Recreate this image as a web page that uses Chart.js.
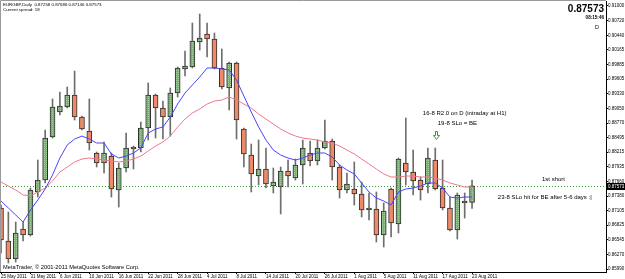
<!DOCTYPE html>
<html>
<head>
<meta charset="utf-8">
<script src="https://cdn.jsdelivr.net/npm/chart.js@4.4.1/dist/chart.umd.min.js"></script>
<style>
  html, body { margin: 0; padding: 0; background: #fff; }
  #wrap { width: 625px; height: 279px; }
</style>
</head>
<body>
<div id="wrap"><canvas id="eurgbp" width="625" height="279"></canvas></div>
<script>
// EURGBP Daily, one entry per trading day, 25 May 2011 .. 23 Aug 2011
const opens = [0.87152, 0.86523, 0.86181, 0.86752, 0.86638, 0.87457, 0.87685, 0.88504, 0.88981, 0.89076,
  0.89304, 0.88885, 0.88619, 0.88200, 0.88009, 0.88142, 0.87495, 0.87914, 0.88314, 0.88295,
  0.88676, 0.89304, 0.89057, 0.88885, 0.89342, 0.89800, 0.89838, 0.90314, 0.90466, 0.90371,
  0.89819, 0.89438, 0.89914, 0.88657, 0.88161, 0.87761, 0.87895, 0.87571, 0.87552, 0.87857,
  0.87723, 0.87971, 0.88200, 0.88047, 0.88295, 0.88428, 0.87933, 0.87495, 0.87514, 0.87419,
  0.87114, 0.87133, 0.86638, 0.87514, 0.86847, 0.88009, 0.87838, 0.87685, 0.87609, 0.88066,
  0.87533, 0.87152, 0.86733, 0.87285, 0.87258];
const highs = [0.87209, 0.87076, 0.86885, 0.86885, 0.87533, 0.88066, 0.88638, 0.89228, 0.89361, 0.89457,
  0.89761, 0.88904, 0.89228, 0.88219, 0.88409, 0.88200, 0.88009, 0.88581, 0.88333, 0.88790,
  0.89533, 0.89323, 0.89190, 0.89438, 0.89838, 0.90142, 0.90676, 0.90847, 0.90676, 0.90485,
  0.90181, 0.89933, 0.89933, 0.88676, 0.88371, 0.88447, 0.88295, 0.87914, 0.87933, 0.88066,
  0.88085, 0.88447, 0.88428, 0.88447, 0.88828, 0.88466, 0.87971, 0.87819, 0.88028, 0.87647,
  0.87438, 0.87457, 0.87247, 0.87533, 0.88104, 0.88866, 0.88257, 0.87742, 0.88295, 0.88295,
  0.88066, 0.87361, 0.87438, 0.87438, 0.87686];
const lows = [0.86295, 0.86104, 0.86123, 0.86523, 0.86619, 0.87361, 0.87628, 0.88485, 0.88923, 0.89057,
  0.88828, 0.88638, 0.88257, 0.87933, 0.87819, 0.87361, 0.87171, 0.87838, 0.87895, 0.88219,
  0.88447, 0.88485, 0.88466, 0.88523, 0.89266, 0.89666, 0.89819, 0.90161, 0.90028, 0.89800,
  0.89419, 0.89019, 0.88466, 0.87933, 0.87457, 0.87590, 0.87533, 0.87438, 0.87038, 0.87552,
  0.87685, 0.87609, 0.87952, 0.87971, 0.88276, 0.87685, 0.87342, 0.87438, 0.87209, 0.86981,
  0.86923, 0.86504, 0.86409, 0.86600, 0.86676, 0.87590, 0.87400, 0.87304, 0.87438, 0.87495,
  0.87114, 0.86714, 0.86561, 0.86961, 0.87146];
const closes = [0.86542, 0.86181, 0.86676, 0.86638, 0.87495, 0.87685, 0.88485, 0.89076, 0.89095, 0.89304,
  0.88885, 0.88657, 0.88390, 0.88009, 0.88200, 0.87514, 0.87914, 0.88295, 0.88276, 0.88676,
  0.89304, 0.89057, 0.88885, 0.89342, 0.89819, 0.89857, 0.90333, 0.90390, 0.90371, 0.89819,
  0.89457, 0.89914, 0.88828, 0.88181, 0.87800, 0.87895, 0.87609, 0.87647, 0.87857, 0.87761,
  0.87971, 0.88295, 0.88047, 0.88295, 0.88428, 0.87933, 0.87495, 0.87609, 0.87419, 0.87114,
  0.87152, 0.86638, 0.87095, 0.86866, 0.88085, 0.87838, 0.87666, 0.87495, 0.88104, 0.87514,
  0.87152, 0.86733, 0.87400, 0.87247, 0.87573];

// moving averages as drawn on the chart (blue = fast, pink = slow)
const maFast = [0.87285, 0.87152, 0.87019, 0.86885, 0.87114, 0.87304, 0.87514, 0.87781, 0.88104, 0.88352,
  0.88466, 0.88523, 0.88466, 0.88390, 0.88390, 0.88181, 0.88104, 0.88142, 0.88200, 0.88295,
  0.88581, 0.88657, 0.88695, 0.88885, 0.89133, 0.89342, 0.89495, 0.89647, 0.89819, 0.89819,
  0.89800, 0.89781, 0.89590, 0.89285, 0.88981, 0.88695, 0.88447, 0.88257, 0.88161, 0.88104,
  0.88066, 0.88104, 0.88161, 0.88200, 0.88200, 0.88123, 0.87971, 0.87876, 0.87800, 0.87628,
  0.87457, 0.87342, 0.87285, 0.87209, 0.87457, 0.87514, 0.87533, 0.87571, 0.87628, 0.87628,
  0.87533, 0.87361, 0.87342, 0.87361, 0.87361];
const maSlow = [0.87647, 0.87571, 0.87495, 0.87400, 0.87381, 0.87457, 0.87533, 0.87666, 0.87838, 0.87933,
  0.88028, 0.88085, 0.88104, 0.88085, 0.88066, 0.88047, 0.88028, 0.88047, 0.88085, 0.88142,
  0.88238, 0.88333, 0.88409, 0.88523, 0.88695, 0.88847, 0.88962, 0.89038, 0.89133, 0.89190,
  0.89209, 0.89266, 0.89209, 0.89133, 0.89057, 0.88942, 0.88847, 0.88752, 0.88657, 0.88581,
  0.88523, 0.88485, 0.88466, 0.88447, 0.88409, 0.88390, 0.88333, 0.88257, 0.88181, 0.88085,
  0.87990, 0.87895, 0.87800, 0.87742, 0.87742, 0.87761, 0.87761, 0.87742, 0.87742, 0.87723,
  0.87685, 0.87628, 0.87590, 0.87552, 0.87552];

// one date label every 4 bars
const dateTicks = ['25 May 2011', '31 May 2011', '6 Jun 2011', '10 Jun 2011', '16 Jun 2011', '22 Jun 2011',
  '28 Jun 2011', '4 Jul 2011', '8 Jul 2011', '14 Jul 2011', '20 Jul 2011', '26 Jul 2011', '1 Aug 2011',
  '5 Aug 2011', '11 Aug 2011', '17 Aug 2011', '23 Aug 2011'];
const tickStep = 4;
const priceTicks = [0.85990, 0.86270, 0.86545, 0.86825, 0.87105, 0.87380, 0.87660, 0.87935, 0.88215, 0.88495,
  0.88770, 0.89050, 0.89330, 0.89605, 0.89885, 0.90165, 0.90440, 0.90720, 0.91000];
const lastPrice = 0.87573;

// chart comments, anchored at (bar, price)
const notes = [
  { text: '16-8 R2.0 on D (intraday at H1)', bar: 63.0, price: 0.88961, align: 'center' },
  { text: '19-8 SLo = BE', bar: 62.0, price: 0.88771, align: 'center' },
  { text: '1st short', bar: 73.5, price: 0.87704, align: 'left' },
  { text: '23-8 SLo hit for BE after 5-6 days :|', bar: 67.5, price: 0.87361, align: 'left' }
];
const arrowAt = { bar: 59.1, price: 0.88619 };

const FONT = '"Liberation Sans", Arial, sans-serif';

// dithered green fill like the terminal's bull candles
function makeBullFill(ctx) {
  const c = document.createElement('canvas');
  c.width = 2; c.height = 2;
  const g = c.getContext('2d');
  g.fillStyle = '#78b070'; g.fillRect(0, 0, 2, 2);
  g.fillStyle = '#a4d29c'; g.fillRect(0, 0, 1, 1);
  return ctx.createPattern(c, 'repeat');
}

const ctx = document.getElementById('eurgbp');
const bullFill = makeBullFill(ctx.getContext('2d'));
const isUp = closes.map((c, i) => c >= opens[i]);

const decor = {
  id: 'decor',
  beforeDatasetsDraw(chart) {
    const { ctx, chartArea: a, scales: { y } } = chart;
    const py = Math.round(y.getPixelForValue(lastPrice)) + 0.5;
    ctx.save();
    ctx.strokeStyle = '#3a9a3a';
    ctx.lineWidth = 1;
    ctx.setLineDash([1, 2]);
    ctx.beginPath();
    ctx.moveTo(a.left, py);
    ctx.lineTo(a.right, py);
    ctx.stroke();
    ctx.restore();
  },
  afterDraw(chart) {
    const { ctx, chartArea: a, scales: { x, y } } = chart;
    ctx.save();
    // frame
    ctx.strokeStyle = '#9a9a9a';
    ctx.lineWidth = 1;
    ctx.beginPath();
    ctx.moveTo(0.5, a.bottom); ctx.lineTo(0.5, 0.5); ctx.lineTo(a.right, 0.5);
    ctx.stroke();

    ctx.fillStyle = '#000';
    ctx.textBaseline = 'middle';
    ctx.textAlign = 'left';
    ctx.font = '4.4px ' + FONT;
    ctx.fillText('EURGBP,Daily  0.87258 0.87686 0.87146 0.87573', 3, 5);
    ctx.fillText('Current spread: 18', 3, 10);

    ctx.font = '5.7px ' + FONT;
    ctx.fillText('MetaTrader, \u00a9 2001-2011 MetaQuotes Software Corp.', 3, 267);

    // price / clock block, top right
    ctx.textAlign = 'right';
    ctx.font = 'bold 10px ' + FONT;
    ctx.fillText('0.87573', a.right - 2, 9);
    ctx.font = 'bold 4.6px ' + FONT;
    ctx.fillText('08:15:46', a.right - 2, 18);
    ctx.font = '5.5px ' + FONT;
    ctx.textAlign = 'center';
    ctx.fillText('D', a.right - 9, 27);

    // comments
    ctx.font = '6px ' + FONT;
    notes.forEach(n => {
      ctx.textAlign = n.align;
      ctx.fillText(n.text, x.getPixelForValue(n.bar), y.getPixelForValue(n.price));
    });

    // hollow down arrow
    const ax = Math.round(x.getPixelForValue(arrowAt.bar)) + 0.5;
    const ay = Math.round(y.getPixelForValue(arrowAt.price)) + 0.5;
    ctx.strokeStyle = '#3a9a3a';
    ctx.fillStyle = '#fff';
    ctx.beginPath();
    ctx.moveTo(ax - 1, ay); ctx.lineTo(ax + 1, ay); ctx.lineTo(ax + 1, ay + 4);
    ctx.lineTo(ax + 3, ay + 4); ctx.lineTo(ax, ay + 8); ctx.lineTo(ax - 3, ay + 4);
    ctx.lineTo(ax - 1, ay + 4); ctx.closePath();
    ctx.fill(); ctx.stroke();

    // current price tag on the axis
    const py = Math.round(y.getPixelForValue(lastPrice));
    ctx.fillStyle = '#000';
    ctx.fillRect(a.right + 1, py - 3, 625 - a.right - 1, 7);
    ctx.fillStyle = '#fff';
    ctx.textAlign = 'left';
    ctx.font = '4.5px ' + FONT;
    ctx.fillText(lastPrice.toFixed(5), a.right + 2, py + 0.5);
    ctx.restore();
  }
};

new Chart(ctx, {
  data: {
    datasets: [
      {
        type: 'line',
        data: maFast.map((v, i) => ({ x: i, y: v })),
        borderColor: '#4646ff',
        borderWidth: 1,
        pointRadius: 0,
        tension: 0,
        order: 0
      },
      {
        type: 'line',
        data: maSlow.map((v, i) => ({ x: i, y: v })),
        borderColor: '#f0788c',
        borderWidth: 1,
        pointRadius: 0,
        tension: 0,
        order: 1
      },
      {
        type: 'bar',
        data: opens.map((o, i) => ({ x: i, y: [o, closes[i]] })),
        backgroundColor: isUp.map(u => u ? bullFill : '#ee8a68'),
        borderColor: '#2e2e2e',
        borderWidth: 1,
        borderSkipped: false,
        barThickness: 5,
        grouped: false,
        order: 2
      },
      {
        type: 'bar',
        data: lows.map((l, i) => ({ x: i, y: [l, highs[i]] })),
        backgroundColor: '#6e6e6e',
        barThickness: 1,
        grouped: false,
        order: 3
      }
    ]
  },
  options: {
    responsive: false,
    animation: false,
    devicePixelRatio: 1,
    layout: { padding: { top: 1, left: 0, right: 0, bottom: 0 } },
    plugins: { legend: { display: false }, tooltip: { enabled: false } },
    scales: {
      x: {
        type: 'linear',
        offset: false,
        min: -0.136,
        max: 82.2,
        afterBuildTicks: axis => {
          axis.ticks = dateTicks.map((_, k) => ({ value: k * tickStep }));
        },
        afterFit: axis => {
          axis.height = 7;
          axis.paddingLeft = 0;
          axis.paddingRight = 0;
        },
        ticks: {
          autoSkip: false,
          maxRotation: 0,
          align: 'start',
          padding: 0,
          color: '#000',
          font: { size: 4.5, family: FONT },
          callback: (v, idx) => dateTicks[idx]
        },
        grid: { drawOnChartArea: false, drawTicks: true, tickLength: 2, color: '#000', offset: false },
        border: { color: '#000' }
      },
      y: {
        position: 'right',
        min: 0.85933,
        max: 0.91095,
        afterBuildTicks: axis => {
          axis.ticks = priceTicks.map(v => ({ value: v }));
        },
        afterFit: axis => {
          axis.width = 19;
          axis.paddingTop = 0;
          axis.paddingBottom = 0;
        },
        ticks: {
          padding: 0,
          color: '#000',
          font: { size: 4.5, family: FONT },
          callback: v => v.toFixed(5)
        },
        grid: { drawOnChartArea: false, drawTicks: true, tickLength: 2, color: '#000' },
        border: { color: '#000' }
      }
    }
  },
  plugins: [decor]
});
</script>
</body>
</html>
